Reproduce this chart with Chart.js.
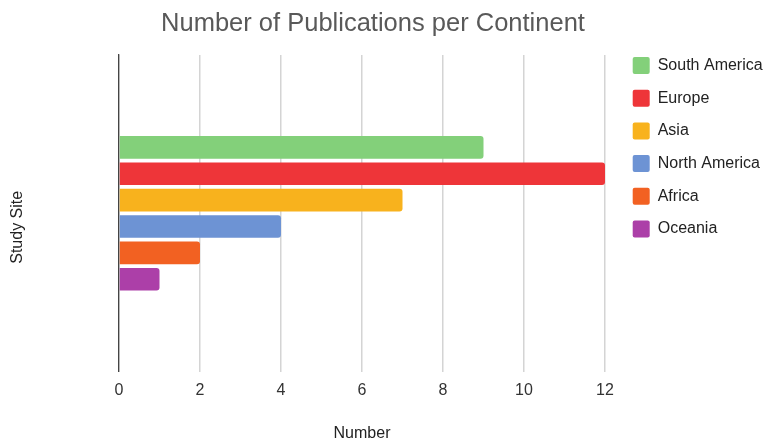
<!DOCTYPE html>
<html>
<head>
<meta charset="utf-8">
<title>Number of Publications per Continent</title>
<script src="https://cdn.jsdelivr.net/npm/chart.js@4/dist/chart.umd.min.js"></script>
<style>
  html, body { margin: 0; padding: 0; background: #ffffff; }
  #wrap { width: 768px; height: 440px; position: relative; }
</style>
</head>
<body>
<div id="wrap"><canvas id="chart" width="768" height="440"></canvas></div>
<script>
// One study-site category, one bar per continent
const categories = [''];
const continents = ['South America', 'Europe', 'Asia', 'North America', 'Africa', 'Oceania'];
const publications = [9, 12, 7, 4, 2, 1];
const palette = ['#83d07a', '#ee3539', '#f8b21d', '#6d93d4', '#f26122', '#ac3fa8'];

const xMin = 0;
const xMax = 12;
const xStep = 2;

const FONT = "'Liberation Sans', Arial, sans-serif";
Chart.defaults.font.family = FONT;

// Rotated title for the category axis, placed a little below the plot's middle
const sideTitle = {
  id: 'sideTitle',
  afterDraw(chart, args, opts) {
    const { ctx, chartArea } = chart;
    const scale = chart.scales.y;
    ctx.save();
    ctx.font = opts.size + 'px ' + FONT;
    ctx.fillStyle = opts.color;
    ctx.textAlign = 'center';
    ctx.textBaseline = 'middle';
    ctx.translate(scale.left + opts.inset, (chartArea.top + chartArea.bottom) / 2 + opts.shift);
    ctx.rotate(-Math.PI / 2);
    ctx.fillText(opts.text, 0, 0);
    ctx.restore();
  }
};

const datasets = continents.map((name, i) => ({
  label: name,
  data: [publications[i]],
  backgroundColor: palette[i],
  borderWidth: 0,
  borderRadius: 3,
  categoryPercentage: 0.5,
  barPercentage: 0.86
}));

new Chart(document.getElementById('chart'), {
  type: 'bar',
  data: { labels: categories, datasets },
  plugins: [sideTitle],
  options: {
    indexAxis: 'y',
    responsive: false,
    animation: false,
    layout: { padding: { left: -22, right: 0, top: 0, bottom: 0 } },
    plugins: {
      title: {
        display: true,
        text: 'Number of Publications per Continent',
        color: '#595959',
        font: { size: 25.5, weight: 'normal' },
        padding: { top: 8.7, bottom: 15.7 }
      },
      legend: {
        position: 'right',
        align: 'start',
        maxWidth: 151,
        title: { display: true, text: '', font: { size: 12 }, padding: { top: 26.9, bottom: 0 } },
        labels: {
          color: '#222222',
          font: { size: 16 },
          boxWidth: 17,
          boxHeight: 17,
          padding: 15.7,
          useBorderRadius: true,
          borderRadius: 2
        }
      },
      sideTitle: { text: 'Study Site', color: '#222222', size: 16, inset: 40, shift: 14 },
      tooltip: { enabled: false }
    },
    scales: {
      x: {
        type: 'linear',
        min: xMin,
        max: xMax,
        ticks: { stepSize: xStep, color: '#333333', font: { size: 16 }, padding: 9.4 },
        grid: { color: '#d4d4d4', lineWidth: 1.5, drawTicks: false },
        border: { display: false },
        title: {
          display: true,
          text: 'Number',
          color: '#222222',
          font: { size: 16, lineHeight: 0.8 },
          padding: { top: 17.6, bottom: 0 }
        }
      },
      y: {
        type: 'category',
        ticks: { display: false },
        grid: { display: false, drawTicks: false },
        border: { display: true, color: '#444444', width: 1.3 },
        afterFit: (scale) => { scale.width = 141; }
      },
      // narrow spacer between the plot and the legend column
      gap: {
        axis: 'y',
        type: 'linear',
        position: 'right',
        ticks: { display: false },
        grid: { display: false, drawTicks: false },
        border: { display: false },
        afterFit: (scale) => { scale.width = 12; }
      }
    }
  }
});
</script>
</body>
</html>
